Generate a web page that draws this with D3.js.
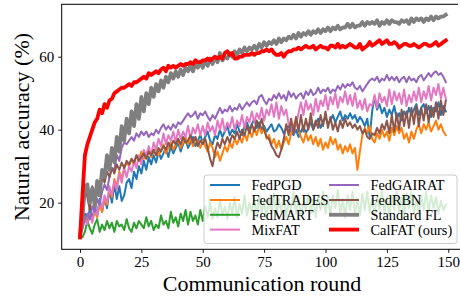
<!DOCTYPE html>
<html>
<head>
<meta charset="utf-8">
<script src="https://cdn.jsdelivr.net/npm/d3@7"></script>
<style>
  html, body { margin: 0; padding: 0; background: #fff; }
  svg { display: block; }
  text { font-family: "Liberation Serif", "Times New Roman", "DejaVu Serif", serif; }
</style>
</head>
<body>
<div id="chart"></div>
<script>
// Natural accuracy per communication round (rounds 0..149)
const xTicks = [0, 25, 50, 75, 100, 125, 150];
const yTicks = [20, 40, 60];

const fedPGD = [
  10.5, 15, 17, 14, 18.5, 15.5, 19, 16.5, 21, 17.5,
  21.5, 18.5, 23.5, 20, 25, 21, 24.5, 20.5, 22, 25.5,
  26.5, 24, 28.5, 26.5, 30, 28, 31.5, 29, 32.5, 30.5,
  33, 31, 34, 32, 33.5, 35, 32.5, 35.5, 33.5, 35,
  36.5, 34, 36, 37.5, 35, 36.5, 38, 35.5, 37, 38.5,
  36.5, 38, 39.5, 37, 36, 38.5, 37.5, 40, 38, 39.5,
  41, 38.5, 40, 39, 41.5, 39.5, 38.5, 41, 42, 40,
  41.5, 43, 40.5, 42, 40, 41, 39.5, 40.5, 41.5, 39.5,
  40, 41.5, 40.5, 39, 40.5, 41, 39.5, 38.5, 40, 38,
  39.5, 41, 39, 40.5, 42, 40, 41.5, 43, 40.5, 42,
  43.5, 41.5, 42.5, 44, 42, 43.5, 45, 42.5, 44, 43,
  44.5, 43, 44, 42, 43.5, 42.5, 41, 43, 38, 45,
  49, 45.5, 47, 44.5, 46, 43.5, 45.5, 44, 46.5, 43,
  44.5, 42.5, 45, 43.5, 46, 44, 45.5, 47, 44, 46,
  47, 44.5, 46.5, 43.5, 46, 45, 47.5, 44, 46.5, 45
];
const fedTRADES = [
  10.5, 14, 16, 14.5, 16.5, 15, 17.5, 16, 19.5, 17.5,
  21, 19.5, 23.5, 21.5, 26.5, 24.5, 28.5, 26.5, 29.5, 31,
  30, 32, 30.5, 33, 31.5, 34, 32, 33.5, 34.5, 32.5,
  34, 35, 33, 34.5, 36, 33.5, 35, 36.5, 34.5, 36,
  37.5, 35, 36.5, 38, 36, 37.5, 35.5, 38, 36.5, 35,
  37, 35.5, 34, 36.5, 35, 32.5, 34, 31.5, 33.5, 35.5,
  34, 36.5, 35, 37.5, 36, 38, 36.5, 39, 37, 40,
  38, 40.5, 38.5, 41, 39, 40.5, 37.5, 38.5, 36, 37.5,
  35, 37, 34.5, 36.5, 38, 36, 39, 41, 43, 40,
  38, 36.5, 39, 37, 38.5, 36, 38, 35.5, 37.5, 34.5,
  36.5, 35, 38, 36, 37.5, 34.5, 36, 33.5, 35.5, 34,
  36, 33.5, 35, 29, 34, 38.5, 40.5, 39, 41, 37.5,
  36.5, 39, 37.5, 40, 38, 39.5, 37, 40.5, 38.5, 41,
  39, 40.5, 37.5, 39, 36.5, 39.5, 37.5, 40, 41.5, 39,
  41.5, 40, 42, 39.5, 41, 42.5, 40, 41.5, 39.5, 38.5
];
const fedMART = [
  10.5, 10.5, 12, 15, 13, 11.5, 14, 15.5, 12, 14,
  12.5, 15, 13, 14.5, 12, 15, 13.5, 14, 12.5, 15.5,
  13, 12, 14.5, 13, 15, 14, 13, 16, 13.5, 15,
  12.5, 14, 13, 16.5, 14, 15, 13, 17.5, 14.5, 16,
  13.5, 17, 15, 18, 14, 17.5, 15, 16.5, 14, 18,
  15, 19, 16, 20, 15.5, 18.5, 16, 21, 16.5, 19,
  15.5, 20, 17, 21.5, 16, 19.5, 17, 22, 16.5, 20,
  17.5, 21, 16, 22, 17, 20.5, 15.5, 21.5, 17, 22.5,
  16.5, 21, 17.5, 22, 16, 20.5, 18, 23, 17, 21.5,
  16.5, 20, 18, 22.5, 17, 21, 16, 22, 18, 23,
  17, 21.5, 16.5, 22, 18.5, 23.5, 17, 21, 16, 22,
  18, 23, 17, 21, 16.5, 22.5, 18, 23, 17.5, 21,
  16.5, 22, 18, 23.5, 17, 21.5, 16.5, 22, 18, 23,
  17.5, 21.5, 16, 22.5, 18.5, 23, 17, 21, 16.5, 22,
  18, 23, 17.5, 22, 18.5, 21.5, 17, 20.5, 18, 19.5
];
const mixFAT = [
  10.5, 13, 15.5, 14, 17, 14.5, 18.5, 16.5, 20, 18.5,
  22, 20, 24.5, 22, 26, 23.5, 28, 25.5, 29.5, 27,
  30, 28.5, 31.5, 29.5, 33, 30.5, 34.5, 32.5, 35.5, 33,
  36.5, 34.5, 37.5, 35.5, 39, 36, 38.5, 37, 39.5, 36.5,
  40, 37.5, 39.5, 38, 41, 37.5, 40.5, 39, 41.5, 38.5,
  41, 38.5, 42, 39.5, 41, 38.5, 42.5, 40, 43, 39.5,
  42, 40.5, 43.5, 40, 42.5, 41, 44, 40.5, 43.5, 42,
  45, 42, 44.5, 43, 46, 42.5, 45.5, 44, 47, 43.5,
  47.5, 43, 46.5, 44, 45.5, 41.5, 40.5, 39, 41.5, 44.5,
  47.5, 44, 48, 45.5, 47, 44, 48.5, 45, 48, 46.5,
  49.5, 45.5, 49, 47, 50, 46, 49, 47.5, 50.5, 47,
  49.5, 46.5, 50, 46, 48, 45.5, 48.5, 45, 47, 46.5,
  49.5, 46, 50, 47.5, 49, 46.5, 51, 47, 50.5, 48,
  50, 47, 51, 46.5, 49.5, 47.5, 50.5, 48, 51.5, 47.5,
  50.5, 48.5, 52, 48, 51.5, 49.5, 52.5, 48.5, 51.5, 48.5
];
const fedGAIRAT = [
  10.5, 13, 15.5, 17, 15.5, 19, 17.5, 21, 19.5, 23,
  25, 23.5, 27, 29.5, 29, 33, 31.5, 35, 36.5, 36,
  37, 38, 37, 39, 38, 39.5, 38.5, 39.5, 38, 39,
  38.5, 40, 39, 40.5, 41.5, 40, 41, 40, 41.5, 40.5,
  42, 41.5, 42.5, 43.5, 44.5, 43.5, 44, 45, 43, 44.5,
  44, 45, 43.5, 42.5, 44, 43, 44.5, 46, 44.5, 45.5,
  45, 46.5, 45, 46, 45.5, 47, 45.5, 46.5, 47.5, 46.5,
  47.5, 48, 47, 49, 49.5, 48, 47, 48.5, 48, 49.5,
  48.5, 50, 48.5, 49.5, 48, 50.5, 49, 50, 48.5, 49.5,
  50, 48.5, 50.5, 49.5, 51, 49.5, 50, 51.5, 50, 51,
  50.5, 51.5, 50, 51, 50.5, 52, 51, 52.5, 51.5, 52.5,
  52, 53, 51.5, 51, 52, 50.5, 51.5, 52.5, 53.5, 54,
  53.5, 54.5, 53, 54, 53.5, 55, 53.5, 54.5, 53.5, 54.5,
  53, 54, 54.5, 53, 54.5, 53.5, 54, 53, 54.5, 55,
  53.5, 54.5, 55.5, 54.5, 55.5, 56, 55, 55.5, 54.5, 53
];
const fedRBN = [
  10.5, 20, 25, 21.5, 18, 24.5, 20.5, 26, 22.5, 27.5,
  25.5, 28.5, 27, 29.5, 28, 30.5, 29, 31, 29.5, 31.5,
  30.5, 32, 31, 33, 31.5, 32.5, 33.5, 32, 34, 33,
  34.5, 33, 35, 34, 35.5, 34.5, 36.5, 35, 37, 36,
  37.5, 36, 38, 36.5, 37, 38.5, 36.5, 38, 35.5, 37,
  36, 37.5, 35, 32, 30, 34, 36.5, 35, 37.5, 36,
  38, 36.5, 38.5, 37.5, 39.5, 37.5, 40, 38.5, 41, 39,
  41.5, 39.5, 42.5, 40.5, 43, 40, 38, 37.5, 35.5, 34.5,
  33, 32.5, 34.5, 37.5, 41.5, 38.5, 43, 39, 43.5, 39.5,
  44, 39.5, 43, 40, 44.5, 40, 42.5, 40.5, 44, 41,
  45, 40.5, 43.5, 40, 42, 39.5, 42.5, 40.5, 43, 41,
  42, 40.5, 41.5, 40, 41, 39, 40, 38, 37.5, 39,
  38.5, 40.5, 39, 41.5, 40, 42.5, 39, 44, 39.5, 44.5,
  40, 45.5, 41, 45, 40.5, 46, 41.5, 46.5, 41, 46,
  42.5, 47, 42, 46.5, 43.5, 47.5, 43, 48, 44, 48
];
const standardFL = [
  10.5, 16, 24, 25, 20, 24, 19, 26, 22, 29,
  27, 33, 29, 35, 31, 38, 34, 41, 37, 43,
  39, 45, 41, 47, 43, 49, 45, 50, 47, 51.5,
  49, 52.5, 50.5, 53.5, 51.5, 54.5, 53, 55.5, 54, 56,
  54.5, 56.5, 55, 57, 56, 57.5, 56, 58, 57, 58.5,
  57, 59, 57.5, 59.5, 58, 60, 58.5, 61, 59, 60,
  59.5, 61, 60, 61.5, 60.5, 62, 61, 62.5, 61.5, 62.5,
  62, 63, 62, 63.5, 62.5, 64, 63, 64, 63.5, 64.5,
  63.5, 65, 64, 65, 64.5, 65.5, 65, 66, 65, 66.5,
  65.5, 66.5, 66, 67, 66, 67, 66.5, 67.5, 66.5, 67.5,
  67, 68, 67, 68, 67.5, 68.5, 67.5, 68, 68, 69,
  68, 69, 68, 68.5, 68.5, 69.5, 68.5, 69.5, 69, 69.5,
  69, 70, 68.5, 69.5, 69, 70, 69, 70, 69.5, 69.5,
  69, 70, 69.5, 70, 69, 70.5, 69.5, 70.5, 70, 70.5,
  69.5, 70.5, 70, 71, 70, 71, 70.5, 71, 71, 71.5
];
const calFAT = [
  10.5, 22, 33, 36, 38, 40, 42, 43, 45.5, 44.5,
  47, 46, 48, 48.5, 50, 50.5, 51, 51.5, 51.5, 52,
  52.5, 52, 53, 53, 53.5, 54, 54.5, 54, 55.5, 55,
  55.5, 56, 55.5, 56.5, 57, 56, 57.5, 57, 57.5, 57,
  57.5, 58, 57.5, 58, 58, 58.5, 58, 59, 58.5, 58.5,
  59, 59, 59.5, 59, 59.5, 60, 59.5, 60, 59.5, 61,
  61.5, 60.5, 61, 59.5, 59.5, 60, 60, 60.5, 60.5, 60.5,
  61, 60.5, 61, 61, 61.5, 61.5, 62, 61.5, 62, 61,
  60.5, 60.5, 61, 60, 61, 61.5, 61.5, 62, 62, 62.5,
  62, 62.5, 63, 62.5, 62.5, 63, 62, 62.5, 63, 62.5,
  62.5, 62, 63, 63, 62.5, 63.5, 62.5, 63, 62.5, 63,
  63.5, 63, 62.5, 62.5, 63.5, 62, 62.5, 63, 64, 63,
  63.5, 64, 64.5, 63.5, 64, 64.5, 63.5, 63.5, 64, 63.5,
  62.5, 63, 63.5, 63.5, 63, 63, 63.5, 63, 62.5, 63,
  63.5, 63.5, 63, 63, 63.5, 64, 63, 63.5, 64, 64.5
];

const seriesNames = ["FedPGD", "FedTRADES", "FedMART", "MixFAT", "FedGAIRAT", "FedRBN", "Standard FL", "CalFAT (ours)"];
const seriesValues = [fedPGD, fedTRADES, fedMART, mixFAT, fedGAIRAT, fedRBN, standardFL, calFAT];
const seriesColors = ["#1f77b4", "#ff7f0e", "#2ca02c", "#e377c2", "#9467bd", "#8c564b", "#7f7f7f", "#ff0000"];
const seriesWidths = [2, 2, 2, 2, 2, 2, 3.8, 3.8];

(function () {
  "use strict";

  const width = 460;
  const height = 299;

  const svg = d3
    .select("#chart")
    .append("svg")
    .attr("width", width)
    .attr("height", height);

  // --- Scales ---
  const x = d3.scaleLinear().domain([-7.45, 156.45]).range([61.7, 464.1]);
  const y = d3.scaleLinear().domain([7.23, 74.36]).range([249.3, 4.3]);

  // --- Lines ---
  const line = d3
    .line()
    .x((d, i) => x(i))
    .y((d) => y(d));

  const lines = svg.append("g").attr("class", "lines");
  seriesValues.forEach((vals, k) => {
    lines
      .append("path")
      .datum(vals)
      .attr("d", line)
      .attr("fill", "none")
      .attr("stroke", seriesColors[k])
      .attr("stroke-width", seriesWidths[k])
      .attr("stroke-linejoin", "round")
      .attr("stroke-linecap", "square");
  });

  // --- Axes ---
  const xAxis = svg
    .append("g")
    .attr("transform", "translate(0,249.3)")
    .call(d3.axisBottom(x).tickValues(xTicks).tickSize(3.5).tickPadding(4));
  const yAxis = svg
    .append("g")
    .attr("transform", "translate(61.7,0)")
    .call(d3.axisLeft(y).tickValues(yTicks).tickSize(3.5).tickPadding(4));

  [xAxis, yAxis].forEach((ax) => {
    ax.select(".domain").remove();
    ax.selectAll("line").attr("stroke", "#000").attr("stroke-width", 0.9);
    ax.selectAll("text")
      .attr("fill", "#000")
      .attr("font-size", "15px")
      .attr("font-family", "'Liberation Serif', serif");
  });

  // Spines: left, top, bottom (right edge falls outside the frame)
  const spines = svg.append("g").attr("stroke", "#000").attr("stroke-width", 1);
  spines.append("line").attr("x1", 61.7).attr("x2", 61.7).attr("y1", 4.3).attr("y2", 249.3);
  spines.append("line").attr("x1", 61.2).attr("x2", 458).attr("y1", 4.3).attr("y2", 4.3);
  spines.append("line").attr("x1", 61.2).attr("x2", 460).attr("y1", 249.3).attr("y2", 249.3);

  // --- Axis labels ---
  svg
    .append("text")
    .attr("x", 262)
    .attr("y", 291)
    .attr("text-anchor", "middle")
    .attr("font-size", "22px")
    .text("Communication round");

  svg
    .append("text")
    .attr("transform", "translate(29,127) rotate(-90)")
    .attr("text-anchor", "middle")
    .attr("font-size", "22px")
    .text("Natural accuracy (%)");

  // --- Legend ---
  const legend = svg.append("g").attr("class", "legend");
  legend
    .append("rect")
    .attr("x", 204)
    .attr("y", 175)
    .attr("width", 253)
    .attr("height", 68.5)
    .attr("rx", 3)
    .attr("fill", "#fff")
    .attr("fill-opacity", 0.8)
    .attr("stroke", "#cccccc")
    .attr("stroke-width", 1);

  const colX = [210, 329];
  const rowY = [185, 200, 214.8, 229.6];
  seriesNames.forEach((name, k) => {
    const col = Math.floor(k / 4);
    const row = k % 4;
    const item = legend.append("g").attr("transform", `translate(${colX[col]},${rowY[row]})`);
    item
      .append("line")
      .attr("x1", 0)
      .attr("x2", 30)
      .attr("stroke", seriesColors[k])
      .attr("stroke-width", seriesWidths[k]);
    item
      .append("text")
      .attr("x", 41.5)
      .attr("dy", "0.35em")
      .attr("font-size", "14.3px")
      .attr("fill", "#000")
      .text(name);
  });
})();
</script>
</body>
</html>
